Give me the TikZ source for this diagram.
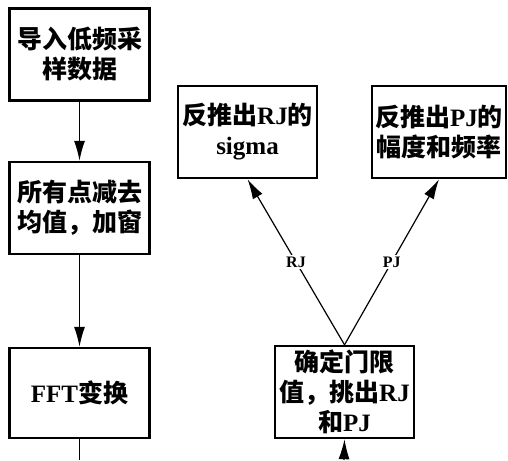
\documentclass[tikz,border=0pt]{standalone}
\usepackage{fontspec}
\setmainfont{Liberation Serif}
\newfontfamily\cjk{Noto Sans CJK SC}
\usetikzlibrary{arrows.meta}
\begin{document}
\begin{tikzpicture}[x=1pt,y=-1pt,
  box/.style={draw, line width=2.4pt, minimum width=140pt, minimum height=92pt,
    align=center, inner sep=0pt, font=\fontsize{25}{30}\selectfont\bfseries},
  conn/.style={line width=1.2pt, -{Latex[length=20pt,width=11pt]}},
  lbl/.style={fill=white, inner sep=1.5pt, font=\fontsize{16}{16}\selectfont\bfseries}]
\useasboundingbox (0,0) rectangle (508,460);
\node[box] (b1) at (79.5,54.5) {{\cjk 导入低频采}\\{\cjk 样数据}};
\node[box] (b2) at (79.5,208) {{\cjk 所有点减去}\\{\cjk 均值，加窗}};
\node[box, minimum height=90pt] (b3) at (79.5,393) {FFT{\cjk 变换}};
\node[box, minimum width=139pt] (b4) at (247.5,132) {{\cjk 反推出}RJ{\cjk 的}\\sigma};
\node[box, minimum width=134pt] (b5) at (439,132) {{\cjk 反推出}PJ{\cjk 的}\\{\cjk 幅度和频率}};
\node[box, minimum width=139pt] (b6) at (344.5,392) {{\cjk 确定门限}\\{\cjk 值，挑出}RJ\\{\cjk 和}PJ};
\coordinate (e3) at (79.5,460);
\coordinate (e6) at (344,460);
\draw[conn] (b1.south) -- (b2.north);
\draw[conn] (b2.south) -- (b3.north);
\draw[line width=1.2pt] (b3.south) -- (e3);
\draw[conn] (e6) -- (b6.south);
\draw[conn] (b6.north) -- node[lbl] (l1) {RJ} (b4.south);
\draw[conn] (b6.north) -- node[lbl] (l2) {PJ} (b5.south);
\end{tikzpicture}
\end{document}
